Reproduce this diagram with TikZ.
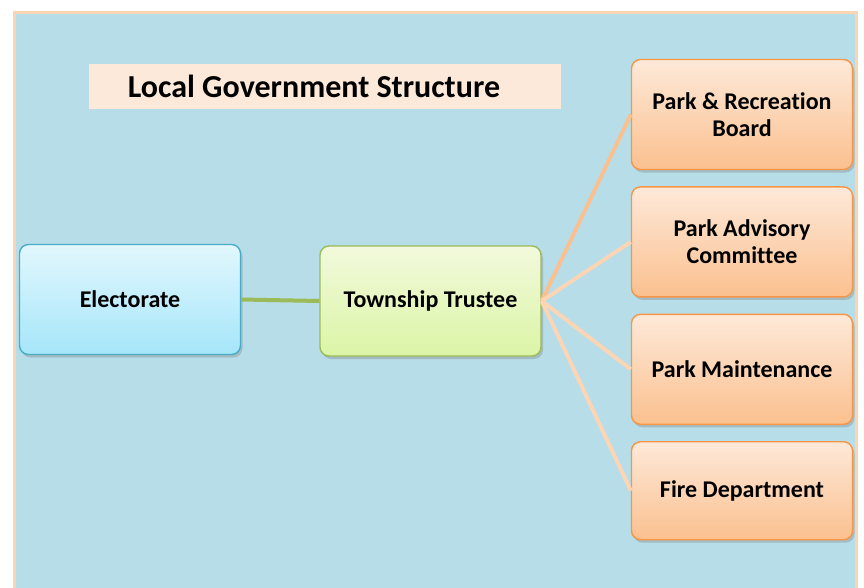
\documentclass[tikz,border=0pt]{standalone}
\usepackage{fontspec}
\setmainfont[Ligatures=NoCommon]{Carlito}
\usetikzlibrary{positioning,shadows}

\definecolor{framefill}{HTML}{B6DDE8}
\definecolor{frameline}{HTML}{FBD4B4}
\definecolor{titlefill}{HTML}{FDE9D9}
\definecolor{bluetop}{HTML}{E2F7FD}
\definecolor{bluebot}{HTML}{A5E6F9}
\definecolor{blueline}{HTML}{4BACC6}
\definecolor{greentop}{HTML}{F2F9DC}
\definecolor{greenbot}{HTML}{DBF5A6}
\definecolor{greenline}{HTML}{9BBB59}
\definecolor{orangetop}{HTML}{FDE9D9}
\definecolor{orangebot}{HTML}{FBC08F}
\definecolor{orangeline}{HTML}{F79646}
\definecolor{linkdark}{HTML}{FAC090}
\definecolor{linklight}{HTML}{FCD5B5}

\tikzset{
  box/.style={rectangle, rounded corners=9pt, line width=1.4pt,
    minimum width=221pt, minimum height=110pt, align=center,
    font=\fontsize{24}{27}\selectfont\bfseries,
    drop shadow={shadow xshift=2pt, shadow yshift=-3pt, opacity=0.35}},
  bluebox/.style={box, draw=blueline, top color=bluetop, bottom color=bluebot},
  greenbox/.style={box, draw=greenline, top color=greentop, bottom color=greenbot},
  orangebox/.style={box, draw=orangeline, top color=orangetop, bottom color=orangebot},
  link/.style={line width=4pt, draw=linklight}
}

\begin{document}
\begin{tikzpicture}[x=1pt,y=-1pt]
  \useasboundingbox (0,0) rectangle (864,587);
  \fill[white] (0,0) rectangle (864,587);
  \draw[line width=3pt, draw=frameline, fill=framefill] (14,12) rectangle (856,600);

  \node[fill=titlefill, minimum width=472pt, minimum height=45pt,
    font=\fontsize{32}{36}\selectfont\bfseries] (title) at (325,86.5)
    {\hspace*{-22pt}Local Government Structure};

  \node[bluebox] (elect) at (130,299.5) {Electorate};
  \node[greenbox] (trustee) at (430.5,301) {Township Trustee};

  \node[orangebox] (board) at (742,114.5) {Park \& Recreation\\Board};
  \node[orangebox, below=16pt of board] (advisory) {Park Advisory\\Committee};
  \node[orangebox, below=16pt of advisory] (maint) {Park Maintenance};
  \node[orangebox, below=16pt of maint, minimum height=98pt] (fire) {Fire Department};

  % connectors
  \draw[line width=4pt, draw=greenline] (elect.east) -- (trustee.west);
  \draw[link, draw=linkdark] (trustee.east) -- (board.west);
  \draw[link] (trustee.east) -- (advisory.west);
  \draw[link] (trustee.east) -- (maint.west);
  \draw[link] (trustee.east) -- (fire.west);
\end{tikzpicture}
\end{document}
